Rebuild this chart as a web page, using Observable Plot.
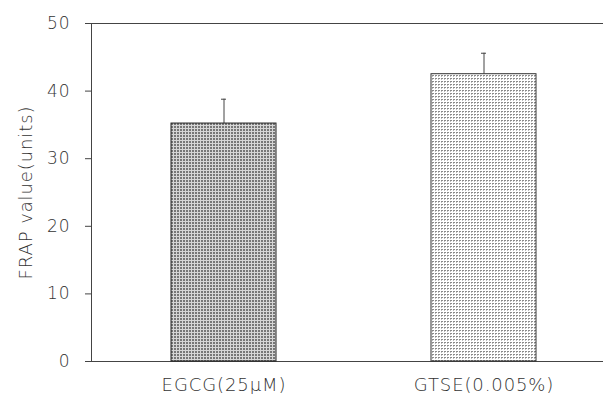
<!DOCTYPE html>
<html>
<head>
<meta charset="utf-8">
<script src="https://cdn.jsdelivr.net/npm/d3@7"></script>
<script src="https://cdn.jsdelivr.net/npm/@observablehq/plot@0.6"></script>
<style>
  body { margin: 0; background: #fff; }
  svg text { font-weight: 300; letter-spacing: 0.9px; }
</style>
</head>
<body>
<div id="chart"></div>
<script>
const categories = ["EGCG(25μM)", "GTSE(0.005%)"];
const values = [35.2, 42.5];
const errors = [3.6, 3.1];
const yTicks = [0, 10, 20, 30, 40, 50];
const yLabel = "FRAP value(units)";

const rows = categories.map((c, i) => ({cat: c, value: values[i], err: errors[i]}));

const plot = Plot.plot({
  width: 603,
  height: 394,
  marginLeft: 91,
  marginRight: 0,
  marginTop: 23,
  marginBottom: 33,
  style: {fontFamily: "DejaVu Sans", color: "#333", background: "#fff"},
  x: {domain: categories, range: [91, 616], paddingInner: 0.597, paddingOuter: 0.307, axis: null},
  y: {domain: [0, 50], axis: null},
  marks: [
    Plot.ruleY([0, 50], {stroke: "#444", strokeWidth: 1}),
    Plot.frame({anchor: "left", stroke: "#444"}),
    Plot.axisY({ticks: yTicks, tickSize: 6, tickFormat: () => "", label: null, stroke: "#444"}),
    Plot.text(yTicks, {y: d => d, frameAnchor: "left", textAnchor: "end", dx: -21, fontSize: 17, fill: "#333"}),
    Plot.axisX({tickSize: 0, tickPadding: 17, fontSize: 18, label: null, fill: "#333"}),
    Plot.text([yLabel], {frameAnchor: "left", textAnchor: "middle", rotate: -90, dx: -65.5, fontSize: 18, fill: "#333"}),
    Plot.ruleX(rows, {x: "cat", y1: "value", y2: d => d.value + d.err, stroke: "#444"}),
    Plot.tickY(rows, {x: "cat", y: d => d.value + d.err, insetLeft: 50, insetRight: 50, stroke: "#444"}),
    Plot.barY(rows.filter((d, i) => i === 0), {x: "cat", y: "value", fill: "url(#pDark)", stroke: "#222", strokeWidth: 1}),
    Plot.barY(rows.filter((d, i) => i === 1), {x: "cat", y: "value", fill: "url(#pLight)", stroke: "#333", strokeWidth: 1})
  ]
});

plot.insertAdjacentHTML("afterbegin", `<defs>
  <pattern id="pDark" width="3" height="3" patternUnits="userSpaceOnUse">
    <rect width="3" height="3" fill="#d6d6d6"></rect>
    <rect width="2" height="2" fill="#777777"></rect>
  </pattern>
  <pattern id="pLight" width="3" height="3" patternUnits="userSpaceOnUse">
    <rect width="3" height="3" fill="#ffffff"></rect>
    <rect width="2" height="1" fill="#8a8a8a"></rect>
    <rect y="1" width="1" height="1" fill="#bbbbbb"></rect>
  </pattern>
</defs>`);

document.getElementById("chart").appendChild(plot);
</script>
</body>
</html>
